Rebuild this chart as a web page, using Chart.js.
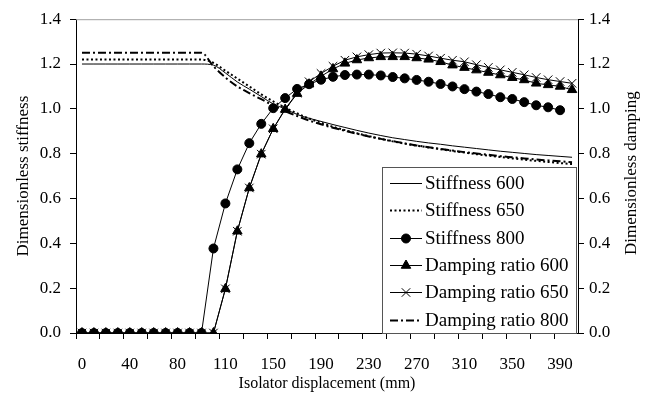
<!DOCTYPE html>
<html>
<head>
<meta charset="utf-8">
<script src="https://cdn.jsdelivr.net/npm/chart.js@4.4.1/dist/chart.umd.min.js"></script>
<style>
html,body{margin:0;padding:0;background:#fff;}
#wrap{width:652px;height:394px;}
</style>
</head>
<body>
<div id="wrap"><canvas id="c" width="652" height="394"></canvas></div>
<script>
// ---- data ----
const displacement = [0,10,20,30,40,50,60,70,80,90,95,100,110,120,130,140,150,160,170,180,190,200,210,220,230,240,250,260,270,280,290,300,310,320,330,340,350,360,370,380,390,400];
const yTicks = [0,0.2,0.4,0.6,0.8,1.0,1.2,1.4];

const stiffness600 = [1.2,1.2,1.2,1.2,1.2,1.2,1.2,1.2,1.2,1.2,1.2,1.195,1.16,1.12,1.088,1.055,1.022,1.0,0.975,0.958,0.944,0.93,0.917,0.904,0.892,0.881,0.871,0.863,0.855,0.848,0.842,0.835,0.829,0.823,0.817,0.811,0.806,0.801,0.796,0.792,0.788,0.784];
const stiffness650 = [1.22,1.22,1.22,1.22,1.22,1.22,1.22,1.22,1.22,1.22,1.22,1.205,1.17,1.135,1.1,1.065,1.033,1.005,0.98,0.957,0.938,0.92,0.905,0.891,0.878,0.866,0.855,0.845,0.836,0.828,0.82,0.812,0.805,0.798,0.791,0.785,0.779,0.773,0.768,0.763,0.758,0.754];
const stiffness800 = [0,0,0,0,0,0,0,0,0,0,0,0.377,0.578,0.73,0.847,0.933,1.003,1.048,1.089,1.11,1.13,1.143,1.151,1.153,1.153,1.149,1.142,1.136,1.129,1.121,1.111,1.1,1.088,1.077,1.066,1.052,1.044,1.03,1.016,1.007,0.994,null];
const damping600 = [0,0,0,0,0,0,0,0,0,0,0,0,0.197,0.454,0.647,0.798,0.911,0.997,1.068,1.11,1.145,1.178,1.203,1.218,1.227,1.232,1.232,1.232,1.227,1.221,1.21,1.195,1.184,1.173,1.162,1.151,1.139,1.129,1.114,1.107,1.1,1.085];
const damping650 = [0,0,0,0,0,0,0,0,0,0,0,0,0.197,0.454,0.647,0.798,0.911,1.0,1.07,1.121,1.158,1.19,1.217,1.232,1.242,1.249,1.25,1.249,1.244,1.236,1.226,1.217,1.21,1.197,1.185,1.174,1.163,1.152,1.14,1.13,1.122,1.114];
const damping800 = [1.25,1.25,1.25,1.25,1.25,1.25,1.25,1.25,1.25,1.25,1.25,1.19,1.14,1.1,1.07,1.043,1.015,0.99,0.968,0.948,0.931,0.916,0.902,0.889,0.877,0.866,0.856,0.846,0.837,0.829,0.821,0.814,0.807,0.801,0.795,0.789,0.784,0.779,0.774,0.77,0.766,0.762];

const FONT = '"Liberation Serif", "Times New Roman", serif';

const legendPlugin = {
  id: 'customLegend',
  afterDraw(chart) {
    const ctx = chart.ctx;
    const ca = chart.chartArea;
    ctx.save();
    // top border of plot
    ctx.strokeStyle = '#a0a0a0';
    ctx.lineWidth = 1;
    ctx.beginPath();
    ctx.moveTo(ca.left, ca.top + 0.5);
    ctx.lineTo(ca.right, ca.top + 0.5);
    ctx.stroke();
    // right title
    ctx.fillStyle = '#000';
    ctx.font = '17px ' + FONT;
    ctx.textAlign = 'center';
    ctx.textBaseline = 'middle';
    ctx.translate(632, (ca.top + ca.bottom) / 2 - 3);
    ctx.rotate(-Math.PI / 2);
    ctx.fillText('Dimensionless damping', 0, 0);
    ctx.restore();

    // legend box
    ctx.save();
    const bx = 382.5, by = 167.5, bw = 194, bh = 166;
    ctx.fillStyle = '#fff';
    ctx.fillRect(bx, by, bw, bh);
    ctx.strokeStyle = '#555';
    ctx.lineWidth = 1;
    ctx.strokeRect(bx, by, bw, bh);
    const rowY0 = 183, step = 27.3;
    chart.data.datasets.forEach((ds, i) => {
      const y = Math.round(rowY0 + i * step) + 0.5;
      ctx.save();
      ctx.strokeStyle = '#000';
      ctx.lineWidth = ds.borderWidth;
      ctx.setLineDash(ds.borderDash || []);
      ctx.beginPath();
      ctx.moveTo(390, y);
      ctx.lineTo(422, y);
      ctx.stroke();
      ctx.setLineDash([]);
      if (ds.pointRadius > 0) {
        ctx.fillStyle = '#000';
        ctx.strokeStyle = '#000';
        ctx.lineWidth = 1;
        Chart.helpers.drawPoint(ctx, {pointStyle: ds.pointStyle, radius: ds.pointRadius, rotation: 0, borderWidth: 1}, 406, y);
      }
      ctx.restore();
      ctx.fillStyle = '#000';
      ctx.font = '19px ' + FONT;
      ctx.textAlign = 'left';
      ctx.textBaseline = 'middle';
      ctx.fillText(ds.label, 425, y + 1);
    });
    ctx.restore();
  }
};

function lineDs(label, data, axis, dash, width) {
  return {label, data, yAxisID: axis, borderColor:'#000', backgroundColor:'#000', borderWidth: width,
    borderDash: dash, pointRadius: 0, pointHoverRadius: 0, cubicInterpolationMode: 'monotone', fill:false};
}
function markDs(label, data, axis, style, r) {
  return {label, data, yAxisID: axis, borderColor:'#000', backgroundColor:'#000', borderWidth: 1,
    pointStyle: style, pointRadius: r, pointBorderWidth: 1, pointHoverRadius: r, tension: 0, fill:false, spanGaps:false};
}

new Chart(document.getElementById('c'), {
  type: 'line',
  data: {
    labels: displacement,
    datasets: [
      lineDs('Stiffness 600', stiffness600, 'y', [], 1),
      lineDs('Stiffness 650', stiffness650, 'y', [2, 2.5], 2),
      markDs('Stiffness 800', stiffness800, 'y', 'circle', 4.5),
      markDs('Damping ratio 600', damping600, 'y1', 'triangle', 5.5),
      markDs('Damping ratio 650', damping650, 'y1', 'crossRot', 6),
      lineDs('Damping ratio 800', damping800, 'y1', [8, 3, 2, 3], 2)
    ]
  },
  options: {
    responsive: false,
    animation: false,
    events: [],
    layout: {padding: {top: 15, left: 0, right: 0, bottom: 0}},
    plugins: {legend: {display: false}, tooltip: {enabled: false}},
    scales: {
      x: {
        type: 'category',
        offset: true,
        grid: {offset: true, drawOnChartArea: false, drawTicks: true, tickLength: 6,
               tickColor: (c) => (c.index % 2 === 0 ? '#000' : 'rgba(0,0,0,0)')},
        border: {display: true, color: '#000', width: 1},
        ticks: {autoSkip: false, maxRotation: 0, minRotation: 0, padding: 15, color: '#000',
                font: {family: FONT, size: 17},
                callback: (v, i) => (i % 4 === 0 ? String(displacement[i]) : '')},
        title: {display: true, text: 'Isolator displacement (mm)', color: '#000',
                font: {family: FONT, size: 16}, padding: {top: 0, bottom: 1}},
        afterFit: (s) => { s.height = 61; }
      },
      y: {
        position: 'left', min: 0, max: 1.4,
        afterBuildTicks: (s) => { s.ticks = yTicks.map(v => ({value: v})); },
        grid: {drawOnChartArea: false, drawTicks: true, tickLength: 6, tickColor: '#000'},
        border: {display: true, color: '#000', width: 1},
        ticks: {padding: 9, color: '#000', font: {family: FONT, size: 17}, callback: (v) => Number(v).toFixed(1)},
        title: {display: true, text: 'Dimensionless stiffness', color: '#000',
                font: {family: FONT, size: 17}, padding: {top: 13, bottom: 0}},
        afterFit: (s) => { s.width = 76; }
      },
      y1: {
        position: 'right', min: 0, max: 1.4,
        afterBuildTicks: (s) => { s.ticks = yTicks.map(v => ({value: v})); },
        grid: {drawOnChartArea: false, drawTicks: true, tickLength: 6, tickColor: '#000'},
        border: {display: true, color: '#000', width: 1},
        ticks: {padding: 5, color: '#000', font: {family: FONT, size: 17}, callback: (v) => Number(v).toFixed(1)},
        afterFit: (s) => { s.width = 74; }
      }
    }
  },
  plugins: [legendPlugin]
});
</script>
</body>
</html>
